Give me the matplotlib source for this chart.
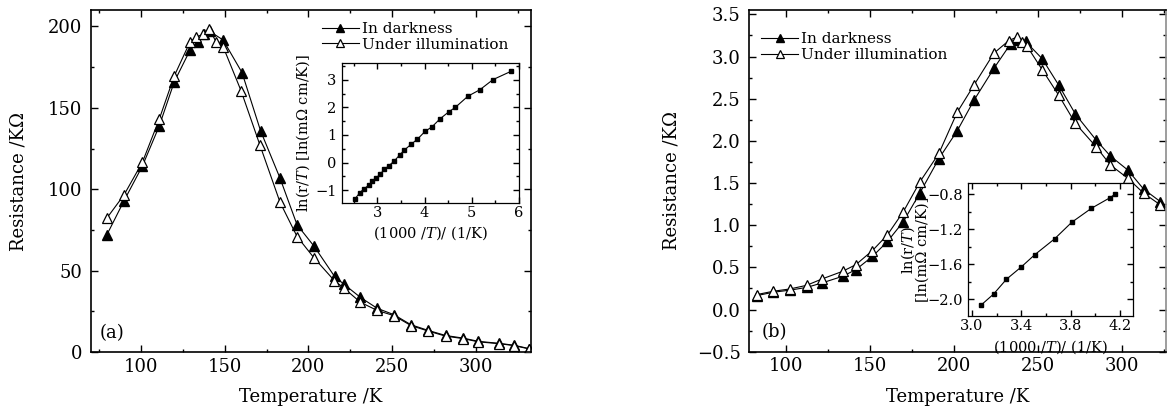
import matplotlib
matplotlib.use('Agg')
import matplotlib.pyplot as plt
from matplotlib.ticker import MultipleLocator, FixedLocator, FuncFormatter

# panel (a): resistance vs temperature
a_T_dark = [79.5, 89.8, 100.8, 110.8, 119.8, 129.3, 133.7, 137.7, 141.0, 149.0, 160.3, 171.4, 183.0, 193.2,
            203.4, 215.6, 221.1, 231.1, 241.1, 251.1, 261.3, 271.7, 282.0, 292.5, 301.6, 313.8, 323.0, 331.7]
a_R_dark = [72.0, 93.0, 114.4, 138.8, 166.0, 185.6, 190.7, 195.2, 197.0, 191.7, 171.7, 135.9, 106.9, 78.2,
            65.0, 46.5, 41.8, 33.6, 26.9, 23.0, 16.8, 13.3, 10.2, 8.6, 6.6, 5.4, 4.2, 2.2]
a_T_light = [79.5, 89.8, 100.8, 110.8, 119.8, 129.3, 133.0, 137.2, 140.8, 144.7, 149.0, 159.7, 171.1, 183.0,
             193.2, 203.4, 215.5, 221.1, 231.1, 241.1, 251.1, 261.3, 271.7, 282.0, 292.5, 301.6, 313.8, 323.0, 331.7]
a_R_light = [82.3, 96.6, 116.7, 143.0, 169.6, 190.7, 193.5, 195.4, 198.5, 190.7, 187.6, 160.6, 126.9, 92.1,
             71.0, 57.8, 43.9, 39.4, 30.6, 25.6, 22.4, 16.3, 12.9, 9.8, 8.3, 6.3, 5.2, 4.0, 2.0]

# inset (a): ln(r/T) vs 1000/T
ia_x = [2.52, 2.63, 2.72, 2.82, 2.89, 2.98, 3.06, 3.15, 3.24, 3.36, 3.47, 3.57, 3.72, 3.85, 4.01, 4.16,
        4.33, 4.52, 4.65, 4.92, 5.17, 5.45, 5.83]
ia_y = [-1.33, -1.09, -0.95, -0.82, -0.67, -0.55, -0.42, -0.24, -0.12, 0.06, 0.27, 0.45, 0.67, 0.85, 1.13,
        1.30, 1.59, 1.85, 2.00, 2.41, 2.64, 3.01, 3.31]

# panel (b)
b_T_dark = [82.6, 92.5, 102.4, 112.3, 121.4, 133.7, 141.6, 151.5, 160.4, 169.9, 179.8, 191.0, 201.9, 211.8,
            223.7, 233.6, 237.2, 242.5, 252.4, 262.3, 272.2, 284.5, 293.0, 303.3, 312.8, 322.7]
b_R_dark = [0.165, 0.205, 0.23, 0.262, 0.315, 0.394, 0.473, 0.63, 0.807, 1.044, 1.387, 1.79, 2.12, 2.48,
            2.86, 3.15, 3.2, 3.18, 2.975, 2.66, 2.317, 2.01, 1.82, 1.655, 1.427, 1.28]
b_T_light = [82.6, 92.5, 102.4, 112.3, 121.4, 133.7, 141.6, 151.5, 160.4, 169.9, 179.8, 191.0, 201.9, 211.8,
             223.7, 232.6, 237.2, 240.5, 243.5, 252.4, 262.3, 272.2, 284.5, 293.0, 303.3, 312.8, 322.7]
b_R_light = [0.177, 0.217, 0.244, 0.287, 0.362, 0.453, 0.532, 0.70, 0.886, 1.162, 1.517, 1.852, 2.34, 2.66,
             3.04, 3.19, 3.23, 3.17, 3.12, 2.845, 2.54, 2.207, 1.93, 1.714, 1.557, 1.379, 1.241]

# inset (b)
ib_x = [3.07, 3.175, 3.28, 3.40, 3.51, 3.67, 3.81, 3.97, 4.12, 4.16]
ib_y = [-2.07, -1.94, -1.77, -1.63, -1.49, -1.31, -1.12, -0.96, -0.84, -0.80]
ib_xticks = [3.0, 3.4, 3.8, 4.2]

plt.rcParams['font.family'] = ['DejaVu Serif']
plt.rcParams['mathtext.fontset'] = 'dejavuserif'

# one decimal, with a proper minus sign
fmt1 = FuncFormatter(lambda v, pos: f'{v:.1f}'.replace('-', '\u2212'))

fig = plt.figure(figsize=(11.72, 4.08), dpi=100)


def style_axes(ax, fs, pad_x, pad_y, major_len=5, minor_len=2.5):
    ax.tick_params(which='both', direction='in', top=True, right=True, width=1.0)
    ax.tick_params(which='major', length=major_len)
    ax.tick_params(which='minor', length=minor_len)
    ax.tick_params(axis='x', labelsize=fs, pad=pad_x)
    ax.tick_params(axis='y', labelsize=fs, pad=pad_y)
    for s in ax.spines.values():
        s.set_linewidth(1.2)


def main_panel(ax, T_d, R_d, T_l, R_l):
    ax.plot(T_d, R_d, '-', color='black', lw=0.8, marker='^', ms=7, mfc='black', mec='black',
            label='In darkness')
    ax.plot(T_l, R_l, '-', color='black', lw=0.8, marker='^', ms=7, mfc='white', mec='black',
            mew=0.9, label='Under illumination')
    ax.set_xlabel('Temperature /K', fontsize=13)
    ax.set_ylabel('Resistance /K\u03a9', fontsize=13)
    ax.xaxis.set_major_locator(MultipleLocator(50))
    ax.xaxis.set_minor_locator(MultipleLocator(25))
    style_axes(ax, 13, 4, 6)


# ---- panel (a)
axa = fig.add_axes([0.0776, 0.137, 0.3754, 0.838])
main_panel(axa, a_T_dark, a_R_dark, a_T_light, a_R_light)
axa.set_xlim(70, 333)
axa.set_ylim(0, 210)
axa.yaxis.set_major_locator(MultipleLocator(50))
axa.yaxis.set_minor_locator(MultipleLocator(25))
axa.yaxis.set_label_coords(-0.145, 0.5)
axa.xaxis.set_label_coords(0.5, -0.105)
axa.text(0.02, 0.056, '(a)', transform=axa.transAxes, fontsize=13, va='center', ha='left')
axa.legend(loc='upper left', bbox_to_anchor=(0.525, 0.965), frameon=False, fontsize=11,
           handlelength=2.4, handletextpad=0.2, labelspacing=0.1, borderaxespad=0, borderpad=0,
           markerscale=0.8)

ina = fig.add_axes([0.2918, 0.5017, 0.151, 0.343])
ina.plot(ia_x, ia_y, '-', color='black', lw=0.8, marker='s', ms=2.5, mfc='black', mec='black')
ina.set_xlim(2.25, 6.0)
ina.set_ylim(-1.48, 3.6)
ina.xaxis.set_major_locator(MultipleLocator(1))
ina.xaxis.set_minor_locator(MultipleLocator(0.5))
ina.yaxis.set_major_locator(MultipleLocator(1))
ina.yaxis.set_minor_locator(MultipleLocator(0.5))
style_axes(ina, 10.5, 2, 4, major_len=4, minor_len=2)
for s in ina.spines.values():
    s.set_linewidth(0.9)
ina.set_xlabel('(1000 /$T$)/ (1/K)', fontsize=10.5)
ina.set_ylabel('ln(r/$T$) [ln(m\u03a9 cm/K)]', fontsize=10.5)
ina.xaxis.set_label_coords(0.5, -0.15)
ina.yaxis.set_label_coords(-0.17, 0.5)

# ---- panel (b)
axb = fig.add_axes([0.639, 0.138, 0.3558, 0.837])
main_panel(axb, b_T_dark, b_R_dark, b_T_light, b_R_light)
axb.set_xlim(78, 326)
axb.set_ylim(-0.5, 3.55)
axb.yaxis.set_major_locator(MultipleLocator(0.5))
axb.yaxis.set_minor_locator(MultipleLocator(0.25))
axb.yaxis.set_major_formatter(fmt1)
axb.yaxis.set_label_coords(-0.165, 0.5)
axb.xaxis.set_label_coords(0.5, -0.105)
axb.spines['right'].set_color('0.55')
axb.text(0.031, 0.056, '(b)', transform=axb.transAxes, fontsize=13, va='center', ha='left')
axb.legend(loc='upper left', bbox_to_anchor=(0.03, 0.935), frameon=False, fontsize=11,
           handlelength=2.4, handletextpad=0.2, labelspacing=0.1, borderaxespad=0, borderpad=0,
           markerscale=0.8)

inb = fig.add_axes([0.8262, 0.2255, 0.1408, 0.3252])
inb.plot(ib_x, ib_y, '-', color='black', lw=0.8, marker='s', ms=2.5, mfc='black', mec='black')
inb.set_xlim(2.97, 4.31)
inb.set_ylim(-2.19, -0.675)
inb.xaxis.set_major_locator(FixedLocator(ib_xticks))
inb.xaxis.set_minor_locator(MultipleLocator(0.2))
inb.yaxis.set_major_locator(MultipleLocator(0.4))
inb.yaxis.set_minor_locator(MultipleLocator(0.2))
inb.xaxis.set_major_formatter(fmt1)
inb.yaxis.set_major_formatter(fmt1)
style_axes(inb, 10.5, 2, 4, major_len=4, minor_len=2)
for s in inb.spines.values():
    s.set_linewidth(0.9)
inb.set_xlabel('(1000 /$T$)/ (1/K)', fontsize=10.5)
inb.set_ylabel('ln(r/$T$)\n[ln(m\u03a9 cm/K)]', fontsize=10.5, linespacing=0.9)
inb.xaxis.set_label_coords(0.5, -0.17)
inb.yaxis.set_label_coords(-0.232, 0.5)

fig.savefig('out.png', dpi=100)
